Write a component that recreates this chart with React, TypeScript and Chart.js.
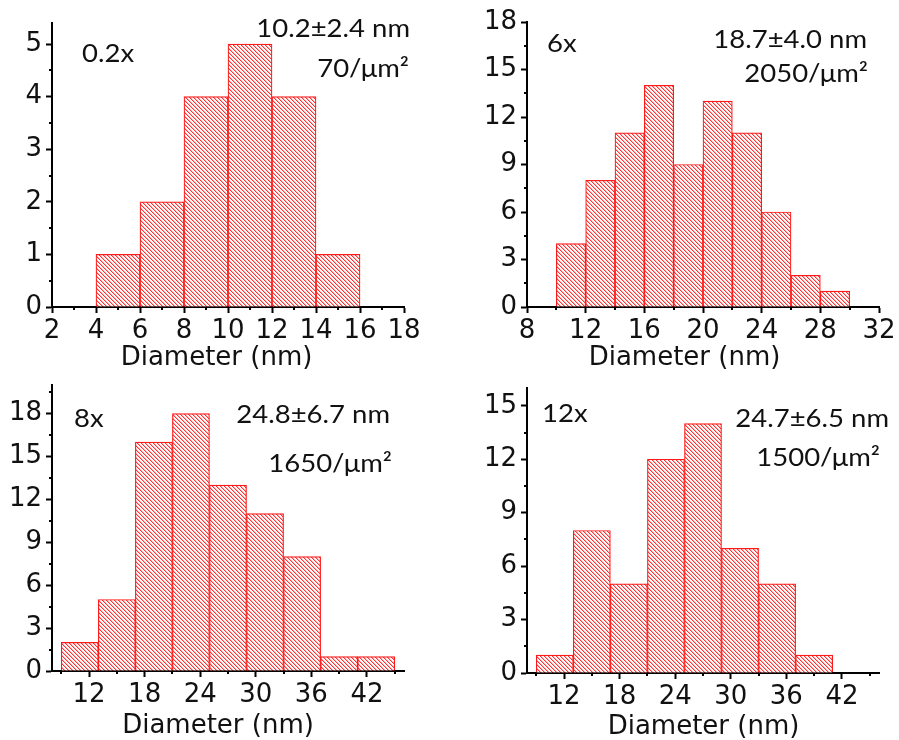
import React, { useEffect, useRef } from "react";
import { Chart, registerables } from "chart.js";

Chart.register(...registerables);

// ---------- data ----------
// bin centres (nm) and counts for each sample
const centers02x = [5, 7, 9, 11, 13, 15];
const counts02x = [1, 2, 4, 5, 4, 1];

const centers6x = [11, 13, 15, 17, 19, 21, 23, 25, 27, 29];
const counts6x = [4, 8, 11, 14, 9, 13, 11, 6, 2, 1];

const centers8x = [11, 15, 19, 23, 27, 31, 35, 39, 43];
const counts8x = [2, 5, 16, 18, 13, 11, 8, 1, 1];

const centers12x = [11, 15, 19, 23, 27, 31, 35, 39];
const counts12x = [1, 8, 5, 12, 14, 7, 5, 1];

const sampleTags = ["0.2x", "6x", "8x", "12x"];
const sizeLabels = ["10.2\u00b12.4 nm", "18.7\u00b14.0 nm", "24.8\u00b16.7 nm", "24.7\u00b16.5 nm"];
const densityLabels = ["70/\u03bcm\u00b2", "2050/\u03bcm\u00b2", "1650/\u03bcm\u00b2", "1500/\u03bcm\u00b2"];
const xTitle = "Diameter (nm)";

// axis ranges: [min, max, step]
const xAxisRanges = [
  [2, 18, 2],
  [8, 32, 4],
  [8, 46, 6],
  [8, 46, 6],
];
const yAxisRanges = [
  [0, 5.4, 1],
  [0, 18, 3],
  [0, 20, 3],
  [0, 16, 3],
];

const allCenters = [centers02x, centers6x, centers8x, centers12x];
const allCounts = [counts02x, counts6x, counts8x, counts12x];

// ---------- layout (canvas-relative) ----------
const panels = [
  { left: 0, top: 0, w: 450, h: 370, yW: 52, xH: 63, pad: { left: 0, top: 23, right: 46, bottom: 0 },
    tag: [82, 62], size: [410, 37], dens: [409, 77], title: [216.5, 365] },
  { left: 450, top: 0, w: 449, h: 370, yW: 77, xH: 63, pad: { left: 0, top: 22, right: 20, bottom: 0 },
    tag: [97, 52], size: [417, 48], dens: [418, 82], title: [234.5, 365] },
  { left: 0, top: 370, w: 450, h: 370, yW: 52, xH: 69, pad: { left: 0, top: 15, right: 46, bottom: 0 },
    tag: [74, 57], size: [390, 53], dens: [392, 102], title: [218, 363] },
  { left: 450, top: 370, w: 449, h: 370, yW: 77, xH: 67, pad: { left: 0, top: 18, right: 20, bottom: 0 },
    tag: [92, 52], size: [439, 57], dens: [430, 96], title: [253.5, 364] },
];

const TICK_FONT = { family: "'DejaVu Sans', sans-serif", size: 26 };
const NOTE_FONT = "25px Lato, 'Open Sans', sans-serif";
const NOTE_STRETCH = 1.1;
const TITLE_FONT = "26px 'DejaVu Sans', sans-serif";
const INK = "#111";

function makeHatch(): CanvasPattern | string {
  const tile = document.createElement("canvas");
  tile.width = 4;
  tile.height = 4;
  const c = tile.getContext("2d");
  if (!c) return "rgba(255,0,0,0.4)";
  c.fillStyle = "#ffffff";
  c.fillRect(0, 0, 4, 4);
  for (let i = 0; i < 4; i++) {
    c.fillStyle = "rgba(255,0,0,0.8)";
    c.fillRect(i, i, 1, 1);
    c.fillStyle = "rgba(255,0,0,0.3)";
    c.fillRect((i + 1) % 4, i, 1, 1);
  }
  const p = c.createPattern(tile, "repeat");
  return p || "rgba(255,0,0,0.4)";
}

const minorTicks = {
  id: "minorTicks",
  afterDraw(chart: any) {
    const { ctx } = chart;
    ctx.save();
    ctx.strokeStyle = "#000";
    ctx.lineWidth = 2;
    const drawFor = (scale: any, horizontal: boolean) => {
      const vals = scale.ticks.map((t: any) => t.value);
      if (vals.length < 2) return;
      const step = vals[1] - vals[0];
      const minors: number[] = [];
      for (let i = 0; i < vals.length - 1; i++) minors.push((vals[i] + vals[i + 1]) / 2);
      const before = vals[0] - step / 2;
      const after = vals[vals.length - 1] + step / 2;
      if (before >= scale.min - 1e-9) minors.push(before);
      if (after <= scale.max + 1e-9) minors.push(after);
      minors.forEach((v) => {
        const px = Math.round(scale.getPixelForValue(v));
        ctx.beginPath();
        if (horizontal) {
          const y0 = chart.chartArea.bottom;
          ctx.moveTo(px, y0);
          ctx.lineTo(px, y0 + 3);
        } else {
          const x0 = chart.chartArea.left;
          ctx.moveTo(x0, px);
          ctx.lineTo(x0 - 3, px);
        }
        ctx.stroke();
      });
    };
    drawFor(chart.scales.x, true);
    drawFor(chart.scales.y, false);
    ctx.restore();
  },
};

function stretchedText(ctx: CanvasRenderingContext2D, text: string, x: number, y: number, align: CanvasTextAlign) {
  ctx.save();
  ctx.translate(x, y);
  ctx.scale(NOTE_STRETCH, 1);
  ctx.textAlign = align;
  ctx.fillText(text, 0, 0);
  ctx.restore();
}

const notes = {
  id: "notes",
  afterDraw(chart: any, _args: any, opts: any) {
    const { ctx } = chart;
    const p = opts.panel;
    const k = opts.index;
    ctx.save();
    ctx.fillStyle = INK;
    ctx.textBaseline = "alphabetic";
    ctx.font = NOTE_FONT;
    stretchedText(ctx, sampleTags[k], p.tag[0], p.tag[1], "left");
    stretchedText(ctx, sizeLabels[k], p.size[0], p.size[1], "right");
    stretchedText(ctx, densityLabels[k], p.dens[0], p.dens[1], "right");
    ctx.font = TITLE_FONT;
    ctx.textAlign = "center";
    ctx.fillText(xTitle, p.title[0], p.title[1]);
    ctx.restore();
  },
};

function Panel({ index }: { index: number }) {
  const ref = useRef<HTMLCanvasElement | null>(null);
  const p = panels[index];
  useEffect(() => {
    if (!ref.current) return;
    const hatch = makeHatch();
    const [xmin, xmax, xstep] = xAxisRanges[index];
    const [ymin, ymax, ystep] = yAxisRanges[index];
    const centers = allCenters[index];
    const counts = allCounts[index];
    const chart = new Chart(ref.current, {
      type: "bar",
      data: {
        datasets: [
          {
            data: centers.map((x, i) => ({ x, y: counts[i] })),
            backgroundColor: hatch as any,
            borderColor: "#ff1a1a",
            borderWidth: 1.2,
            barPercentage: 1,
            categoryPercentage: 1,
          },
        ],
      },
      options: {
        animation: false,
        responsive: false,
        events: [],
        layout: { padding: p.pad },
        plugins: {
          legend: { display: false },
          tooltip: { enabled: false },
          notes: { panel: p, index },
        } as any,
        scales: {
          x: {
            type: "linear",
            min: xmin,
            max: xmax,
            offset: false,
            ticks: {
              stepSize: xstep,
              includeBounds: false,
              font: TICK_FONT,
              color: INK,
              padding: 3,
              maxRotation: 0,
              autoSkip: false,
            },
            grid: {
              offset: false,
              drawOnChartArea: false,
              drawTicks: true,
              tickLength: 6,
              tickWidth: 2,
              tickColor: "#000",
            },
            border: { display: true, color: "#000", width: 2 },
            afterFit: (s: any) => {
              s.height = p.xH;
              s.paddingLeft = 0;
              s.paddingRight = 0;
            },
          } as any,
          y: {
            type: "linear",
            min: ymin,
            max: ymax,
            ticks: {
              stepSize: ystep,
              includeBounds: false,
              font: TICK_FONT,
              color: INK,
              padding: 4,
            },
            grid: {
              drawOnChartArea: false,
              drawTicks: true,
              tickLength: 6,
              tickWidth: 2,
              tickColor: "#000",
            },
            border: { display: true, color: "#000", width: 2 },
            afterFit: (s: any) => {
              s.width = p.yW;
              s.paddingTop = 0;
              s.paddingBottom = 0;
            },
          } as any,
        },
      },
      plugins: [minorTicks, notes],
    });
    return () => chart.destroy();
  }, [index]);
  return (
    <canvas
      ref={ref}
      width={p.w}
      height={p.h}
      style={{ position: "absolute", left: p.left, top: p.top, width: p.w, height: p.h }}
    />
  );
}

export default function App() {
  return (
    <div style={{ position: "absolute", left: 0, top: 0, width: 899, height: 740, background: "#fff" }}>
      {panels.map((_, i) => (
        <Panel key={i} index={i} />
      ))}
    </div>
  );
}
